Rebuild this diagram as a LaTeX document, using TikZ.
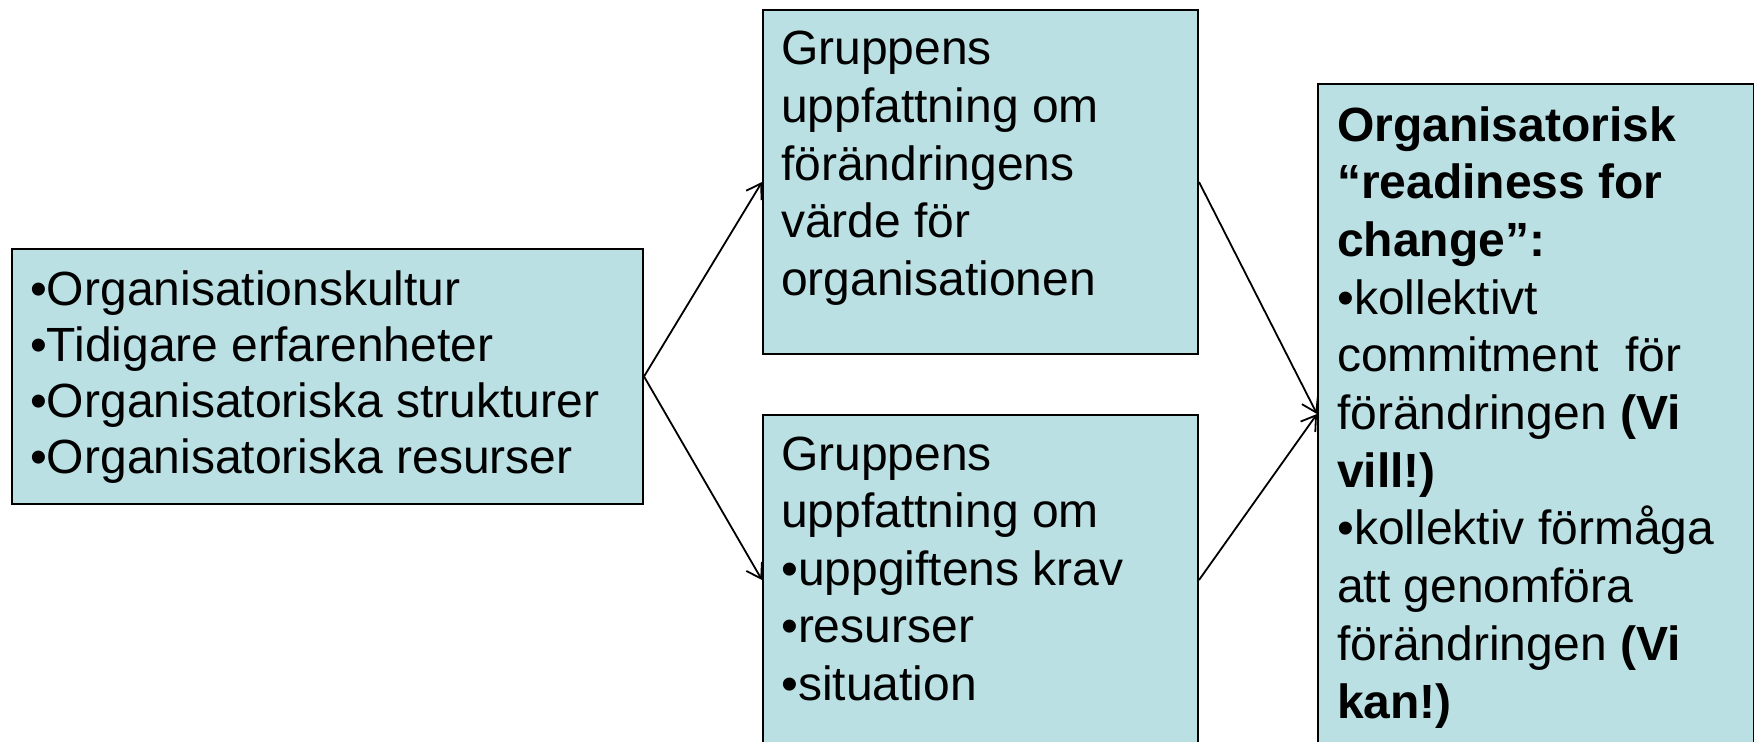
\documentclass[tikz,border=0pt]{standalone}
\usepackage{fontspec}
\setmainfont{Liberation Sans}
\usetikzlibrary{arrows.meta}
\definecolor{boxfill}{RGB}{187,224,227}
\begin{document}
\begin{tikzpicture}[x=1bp,y=-1bp,
  box/.style={draw=black, line width=2bp, fill=boxfill, rectangle, inner sep=0pt, anchor=north west},
  txt/.style={inner sep=0pt, anchor=base west},
  conn/.style={line width=1.8bp, -{Straight Barb[length=14bp,width=18bp,line width=1.8bp]}}]
\useasboundingbox (0,0) rectangle (1754,742);
\clip (0,0) rectangle (1754,742);
\node[box, minimum width=631bp, minimum height=255bp] (A) at (11,248) {};
\node[box, minimum width=435bp, minimum height=344bp] (B) at (762,9) {};
\node[box, minimum width=435bp, minimum height=330bp] (C) at (762,414) {};
\node[box, minimum width=436bp, minimum height=660bp] (D) at (1317,83) {};
\node[txt] (At) at (30,305) {\parbox[t]{610bp}{\fontsize{48bp}{56.3bp}\selectfont
\textbullet Organisationskultur\\
\textbullet Tidigare erfarenheter\\
\textbullet Organisatoriska strukturer\\
\textbullet Organisatoriska resurser}};
\node[txt] (Bt) at (781,65) {\parbox[t]{410bp}{\fontsize{48bp}{57.6bp}\selectfont
Gruppens\\
uppfattning om\\
förändringens\\
värde för\\
organisationen}};
\node[txt] (Ct) at (781,470) {\parbox[t]{410bp}{\fontsize{48bp}{57.6bp}\selectfont
Gruppens\\
uppfattning om\\
\textbullet uppgiftens krav\\
\textbullet resurser\\
\textbullet situation}};
\node[txt] (Dt) at (1337,141) {\parbox[t]{410bp}{\fontsize{48bp}{57.7bp}\selectfont
\textbf{Organisatorisk}\\
\textbf{“readiness for}\\
\textbf{change”:}\\
\textbullet kollektivt\\
commitment\ \ för\\
förändringen \textbf{(Vi}\\
\textbf{vill!)}\\
\textbullet kollektiv förmåga\\
att genomföra\\
förändringen \textbf{(Vi}\\
\textbf{kan!)}}};
\draw[conn] (A.east) -- (B.west);
\draw[conn] (A.east) -- (C.west);
\draw[conn] (B.east) -- (D.west);
\draw[conn] (C.east) -- (D.west);
\end{tikzpicture}
\end{document}
